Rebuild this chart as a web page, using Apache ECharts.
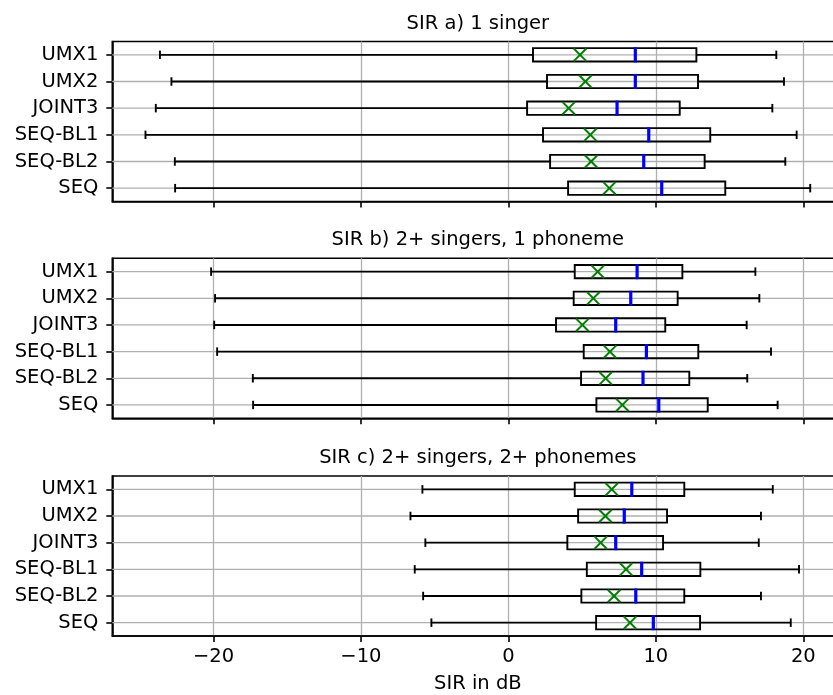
<!DOCTYPE html>
<html>
<head>
<meta charset="utf-8">
<script src="https://cdn.jsdelivr.net/npm/echarts@6/dist/echarts.min.js"></script>
<style>
html,body{margin:0;padding:0;background:#fff;}
#chart{width:833px;height:695px;}
</style>
</head>
<body>
<div id="chart"></div>
<script>
// ---- data ----
const categories = ['UMX1', 'UMX2', 'JOINT3', 'SEQ-BL1', 'SEQ-BL2', 'SEQ'];
const panelTitles = ['SIR a) 1 singer', 'SIR b) 2+ singers, 1 phoneme', 'SIR c) 2+ singers, 2+ phonemes'];
const xTicks = [-20, -10, 0, 10, 20];
const xAxisName = 'SIR in dB';

// panel a) 1 singer
const lowA  = [-23.63, -22.85, -23.91, -24.61, -22.62, -22.60];
const q1A   = [1.67, 2.62, 1.27, 2.35, 2.83, 4.05];
const medA  = [8.61, 8.61, 7.37, 9.52, 9.18, 10.40];
const q3A   = [12.75, 12.86, 11.62, 13.69, 13.31, 14.71];
const highA = [18.17, 18.69, 17.90, 19.55, 18.78, 20.47];
const meanA = [4.86, 5.22, 4.09, 5.56, 5.61, 6.85];

// panel b) 2+ singers, 1 phoneme
const lowB  = [-20.16, -19.89, -19.95, -19.75, -17.33, -17.31];
const q1B   = [4.50, 4.43, 3.23, 5.11, 4.93, 5.97];
const medB  = [8.73, 8.30, 7.28, 9.36, 9.13, 10.20];
const q3B   = [11.80, 11.48, 10.64, 12.88, 12.27, 13.52];
const highB = [16.75, 17.02, 16.16, 17.81, 16.20, 18.26];
const meanB = [6.06, 5.76, 5.02, 6.89, 6.60, 7.73];

// panel c) 2+ singers, 2+ phonemes
const lowC  = [-5.83, -6.64, -5.63, -6.35, -5.78, -5.22];
const q1C   = [4.50, 4.73, 4.00, 5.32, 4.95, 5.95];
const medC  = [8.37, 7.86, 7.28, 9.04, 8.64, 9.83];
const q3C   = [11.93, 10.76, 10.49, 13.02, 11.93, 13.00];
const highC = [17.93, 17.13, 16.98, 19.71, 17.13, 19.15];
const meanC = [7.01, 6.58, 6.26, 7.98, 7.17, 8.25];

const panels = [
  [lowA, q1A, medA, q3A, highA, meanA],
  [lowB, q1B, medB, q3B, highB, meanB],
  [lowC, q1C, medC, q3C, highC, meanC]
];

// ---- layout / style ----
const FONT = 'DejaVu Sans';
const FS = 19.5;
const LEFT = 112.3, RIGHT = -10.4, H = 160;
const tops = [41.5, 258.3, 476];
const titleY = [23.5, 240.3, 458];
const X_MIN = -26.86, X_MAX = 22.72;
const GRID_C = '#b0b0b0';

const chart = echarts.init(document.getElementById('chart'), null, {renderer: 'canvas'});

function renderItem(params, api) {
  const cs = params.coordSys;
  const idx = api.value(0);
  const low = api.value(1), q1 = api.value(2), med = api.value(3), q3 = api.value(4), high = api.value(5), mean = api.value(6);
  const pLow = api.coord([low, idx]);
  const pQ1 = api.coord([q1, idx]);
  const pMed = api.coord([med, idx]);
  const pQ3 = api.coord([q3, idx]);
  const pHigh = api.coord([high, idx]);
  const pMean = api.coord([mean, idx]);
  const yc = pQ1[1];
  const band = api.size([0, 1])[1];
  const bh = band * 0.25;    // half box height
  const ch = band * 0.125 + 0.9;   // half cap height
  const lw = 1.9;
  const blk = {stroke: '#000', lineWidth: lw, fill: null};
  const xs = 6.3;
  return {
    type: 'group',
    children: [
      {type: 'line', shape: {x1: cs.x, y1: yc, x2: cs.x + cs.width, y2: yc}, style: {stroke: GRID_C, lineWidth: 1.3}, z2: 0},
      {type: 'line', shape: {x1: pLow[0], y1: yc, x2: pQ1[0], y2: yc}, style: blk, z2: 1},
      {type: 'line', shape: {x1: pQ3[0], y1: yc, x2: pHigh[0], y2: yc}, style: blk, z2: 1},
      {type: 'line', shape: {x1: pLow[0], y1: yc - ch, x2: pLow[0], y2: yc + ch}, style: blk, z2: 1},
      {type: 'line', shape: {x1: pHigh[0], y1: yc - ch, x2: pHigh[0], y2: yc + ch}, style: blk, z2: 1},
      {type: 'rect', shape: {x: pQ1[0], y: yc - bh, width: pQ3[0] - pQ1[0], height: 2 * bh}, style: {stroke: '#000', lineWidth: lw, fill: null}, z2: 2},
      {type: 'line', shape: {x1: pMed[0], y1: yc - bh - 0.9, x2: pMed[0], y2: yc + bh + 0.9}, style: {stroke: '#0000ff', lineWidth: 3.2}, z2: 3},
      {type: 'line', shape: {x1: pMean[0] - xs, y1: yc - xs, x2: pMean[0] + xs, y2: yc + xs}, style: {stroke: '#008000', lineWidth: 2}, z2: 4},
      {type: 'line', shape: {x1: pMean[0] - xs, y1: yc + xs, x2: pMean[0] + xs, y2: yc - xs}, style: {stroke: '#008000', lineWidth: 2}, z2: 4}
    ]
  };
}

const grids = [], xAxes = [], yAxes = [], series = [], graphics = [];
panels.forEach((p, i) => {
  const [low, q1, med, q3, high, mean] = p;
  grids.push({
    left: LEFT, right: RIGHT, top: tops[i], height: H,
    show: true, borderColor: '#000', borderWidth: 1.6, backgroundColor: 'transparent',
    containLabel: false, outerBoundsMode: 'none'
  });
  const last = i === panels.length - 1;
  xAxes.push({
    type: 'value', gridIndex: i, min: X_MIN, max: X_MAX,
    axisLine: {show: true, onZero: false, lineStyle: {color: '#000', width: 1.6}},
    axisTick: {show: true, inside: false, length: 6, customValues: xTicks, lineStyle: {color: '#000', width: 1.6}},
    axisLabel: {show: last, customValues: xTicks, margin: 11, color: '#000', fontFamily: FONT, fontSize: FS,
      formatter: v => String(v).replace('-', '\u2212')},
    splitLine: {show: true, lineStyle: {color: GRID_C, width: 1.3}},
    name: last ? xAxisName : '', nameLocation: 'middle', nameGap: 38,
    nameTextStyle: {color: '#000', fontFamily: FONT, fontSize: FS}
  });
  yAxes.push({
    type: 'category', gridIndex: i, data: categories, inverse: true,
    axisLine: {show: true, onZero: false, lineStyle: {color: '#000', width: 1.6}},
    axisTick: {show: true, inside: false, length: 6, alignWithLabel: true, lineStyle: {color: '#000', width: 1.6}},
    axisLabel: {margin: 14, color: '#000', fontFamily: FONT, fontSize: FS},
    splitLine: {show: false}
  });
  series.push({
    type: 'custom', xAxisIndex: i, yAxisIndex: i,
    renderItem: renderItem,
    encode: {x: [1, 2, 3, 4, 5, 6], y: 0},
    data: categories.map((c, k) => [k, low[k], q1[k], med[k], q3[k], high[k], mean[k]]),
    clip: false, silent: true, animation: false
  });
  graphics.push({
    type: 'text', x: (112.3 + 843.4) / 2, y: titleY[i],
    style: {text: panelTitles[i], fill: '#000', font: FS + 'px "' + FONT + '"', align: 'center', verticalAlign: 'middle'}
  });
});

chart.setOption({
  animation: false,
  backgroundColor: '#fff',
  textStyle: {fontFamily: FONT},
  grid: grids,
  xAxis: xAxes,
  yAxis: yAxes,
  series: series,
  graphic: graphics
});
</script>
</body>
</html>
